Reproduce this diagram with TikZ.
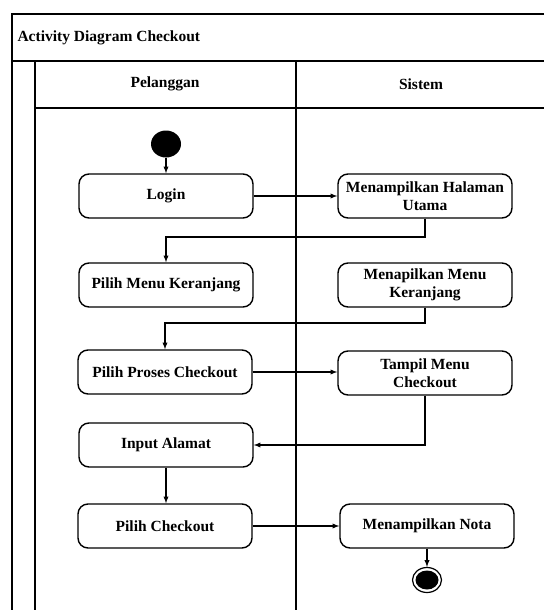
\documentclass[tikz,border=0pt]{standalone}
\usepackage{fontspec}
\setmainfont{Liberation Serif}
\usepackage{tikz}
\usetikzlibrary{calc, arrows, shapes.geometric}
\tikzstyle{lane}     = [line width=1.6pt]
\tikzstyle{activity} = [draw, line width=1.4pt, rounded corners=10pt, minimum width=174pt, minimum height=44pt, align=center, font=\fontsize{15.5}{18}\selectfont\bfseries]
\tikzstyle{arrow}    = [line width=1.3pt, -latex]

\begin{document}
\begin{tikzpicture}[x=1pt, y=-1pt]
  \useasboundingbox (0,0) rectangle (544,610);

  %frame and swimlanes
  \draw[lane] (544,14) -- (12,14) -- (12,610);
  \draw[lane] (12,61) -- (544,61);
  \draw[lane] (35,108) -- (544,108);
  \draw[lane] (35,61) -- (35,610);
  \draw[lane] (296,61) -- (296,610);
  \node[anchor=west, font=\fontsize{15.5}{18}\selectfont\bfseries] (title) at (14,38) {Activity Diagram Checkout};
  \node[font=\fontsize{15.5}{18}\selectfont\bfseries] (pelanggan) at (165,84) {Pelanggan};
  \node[font=\fontsize{15.5}{18}\selectfont\bfseries] (sistem) at (421,84) {Sistem};

  %start and end
  \node[fill, ellipse, minimum width=30pt, minimum height=27pt, inner sep=0pt] (start) at (166,144) {};
  \node[draw, line width=1.2pt, ellipse, minimum width=29pt, minimum height=25pt, inner sep=0pt] (stop) at (427,580) {};
  \node[fill, ellipse, minimum width=23pt, minimum height=19pt, inner sep=0pt] (stopin) at (427,580) {};

  %pelanggan lane
  \node[activity] (login)     at (166,196) {Login};
  \node[activity] (keranjang) at (166,285) {Pilih Menu Keranjang};
  \node[activity] (proses)    at (165,372) {Pilih Proses Checkout};
  \node[activity] (alamat)    at (166,445) {Input Alamat};
  \node[activity] (checkout)  at (165,526) {Pilih Checkout};

  %sistem lane
  \node[activity] (utama)     at (425,196) {Menampilkan Halaman\\Utama};
  \node[activity] (menuker)   at (425,285) {Menapilkan Menu\\Keranjang};
  \node[activity] (tampil)    at (425,373) {Tampil Menu\\Checkout};
  \node[activity] (nota)      at (427,526) {Menampilkan Nota};

  \draw[arrow] (start) -- (login);
  \draw[arrow] (login) -- (utama);
  \draw[arrow] (utama.south) |- (166,237) -- (keranjang.north);
  \draw[arrow] (menuker.south) |- (165,323) -- (proses.north);
  \draw[arrow] (proses) -- (proses -| tampil.west);
  \draw[arrow] (tampil.south) |- (alamat.east);
  \draw[arrow] (alamat.south) -- (alamat.south |- checkout.north);
  \draw[arrow] (checkout) -- (nota);
  \draw[arrow] (nota) -- (stop);
\end{tikzpicture}
\end{document}
